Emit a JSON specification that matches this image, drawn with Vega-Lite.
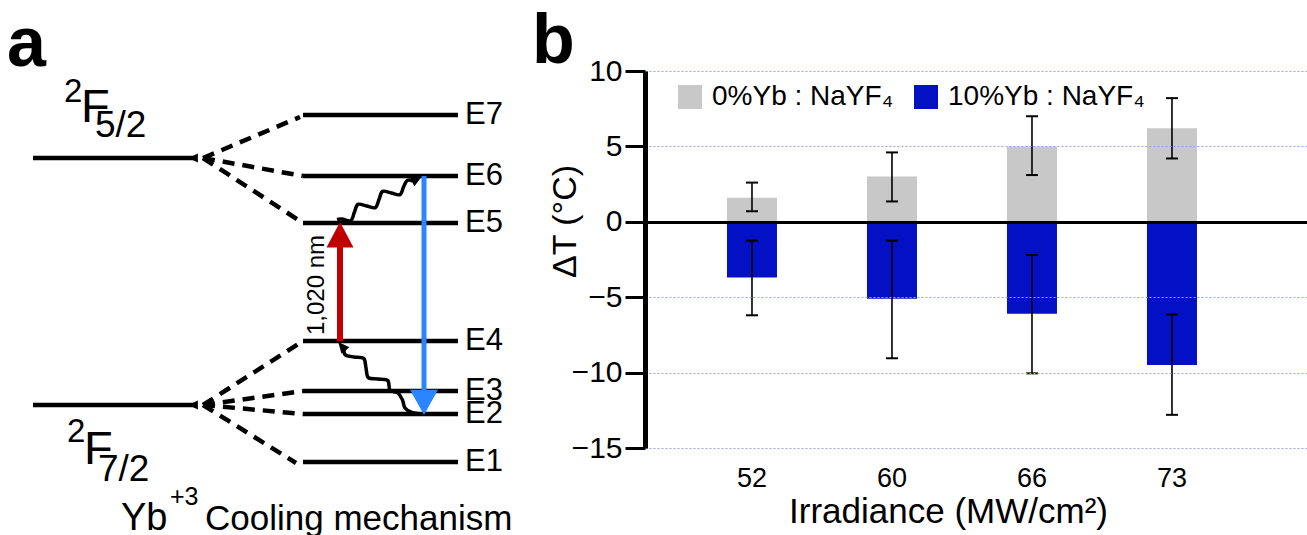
{
"$schema": "https://vega.github.io/schema/vega-lite/v6.json",
"width": 1307, "height": 535, "padding": 0,
"autosize": {"type": "none"},
"background": "white",
"config": {"view": {"stroke": null}, "font": "Liberation Sans", "text": {"font": "Liberation Sans", "color": "black"}},
"datasets": {
 "levels": [
  {"level": "2F5/2", "x1": 33, "x2": 197, "y": 158},
  {"level": "2F7/2", "x1": 33, "x2": 197, "y": 405},
  {"level": "E7", "x1": 303, "x2": 458, "y": 115},
  {"level": "E6", "x1": 303, "x2": 458, "y": 176},
  {"level": "E5", "x1": 303, "x2": 458, "y": 223},
  {"level": "E4", "x1": 303, "x2": 458, "y": 341},
  {"level": "E3", "x1": 303, "x2": 458, "y": 391},
  {"level": "E2", "x1": 303, "x2": 458, "y": 414},
  {"level": "E1", "x1": 303, "x2": 458, "y": 462}
 ],
 "connectors": [
  {"x1": 203, "y1": 158, "x2": 300, "y2": 117},
  {"x1": 203, "y1": 158, "x2": 303, "y2": 176},
  {"x1": 203, "y1": 158, "x2": 303, "y2": 223},
  {"x1": 203, "y1": 405, "x2": 303, "y2": 341},
  {"x1": 203, "y1": 405, "x2": 303, "y2": 391},
  {"x1": 203, "y1": 405, "x2": 303, "y2": 414},
  {"x1": 203, "y1": 405, "x2": 296, "y2": 463}
 ],
 "transitions": [
  {"name": "absorption", "x": 340, "y1": 341, "y2": 240},
  {"name": "emission", "x": 424, "y1": 176, "y2": 395}
 ],
 "heads": [
  {"name": "absorption", "x": 340, "y": 234.7},
  {"name": "emission", "x": 424, "y": 402.4},
  {"name": "relax_up", "x": 416, "y": 179.5},
  {"name": "relax_down", "x": 342.5, "y": 347},
  {"name": "split_upper", "x": 194, "y": 158},
  {"name": "split_lower", "x": 194, "y": 405}
 ],
 "waves": [
  {"w": "u", "i": 0, "x": 337, "y": 219.5},
  {"w": "u", "i": 1, "x": 342, "y": 219},
  {"w": "u", "i": 2, "x": 350.8, "y": 220.6},
  {"w": "u", "i": 3, "x": 354.3, "y": 212.5},
  {"w": "u", "i": 4, "x": 357.9, "y": 204.4},
  {"w": "u", "i": 5, "x": 366.7, "y": 206},
  {"w": "u", "i": 6, "x": 375.4, "y": 207.6},
  {"w": "u", "i": 7, "x": 379, "y": 199.5},
  {"w": "u", "i": 8, "x": 382.6, "y": 191.4},
  {"w": "u", "i": 9, "x": 391.3, "y": 193},
  {"w": "u", "i": 10, "x": 400.1, "y": 194.6},
  {"w": "u", "i": 11, "x": 403.7, "y": 186.5},
  {"w": "u", "i": 12, "x": 407.2, "y": 180.4},
  {"w": "u", "i": 13, "x": 413, "y": 181},
  {"w": "l", "i": 0, "x": 422, "y": 414},
  {"w": "l", "i": 1, "x": 412, "y": 412.5},
  {"w": "l", "i": 2, "x": 405, "y": 408},
  {"w": "l", "i": 3, "x": 402.5, "y": 400},
  {"w": "l", "i": 4, "x": 398, "y": 393},
  {"w": "l", "i": 5, "x": 390, "y": 390},
  {"w": "l", "i": 6, "x": 387.7, "y": 380.4},
  {"w": "l", "i": 7, "x": 378, "y": 379},
  {"w": "l", "i": 8, "x": 368.3, "y": 377.6},
  {"w": "l", "i": 9, "x": 366, "y": 368},
  {"w": "l", "i": 10, "x": 363.7, "y": 358.4},
  {"w": "l", "i": 11, "x": 354, "y": 357},
  {"w": "l", "i": 12, "x": 345.5, "y": 355},
  {"w": "l", "i": 13, "x": 344, "y": 350}
 ],
 "bars": [
  {"irr": "52", "series": "0%Yb : NaYF₄", "dT": 1.6, "lo": 0.7, "hi": 2.6},
  {"irr": "60", "series": "0%Yb : NaYF₄", "dT": 3.0, "lo": 1.35, "hi": 4.6},
  {"irr": "66", "series": "0%Yb : NaYF₄", "dT": 5.0, "lo": 3.1, "hi": 7.0},
  {"irr": "73", "series": "0%Yb : NaYF₄", "dT": 6.2, "lo": 4.2, "hi": 8.2},
  {"irr": "52", "series": "10%Yb : NaYF₄", "dT": -3.7, "lo": -6.2, "hi": -1.25},
  {"irr": "60", "series": "10%Yb : NaYF₄", "dT": -5.1, "lo": -9.05, "hi": -1.25},
  {"irr": "66", "series": "10%Yb : NaYF₄", "dT": -6.1, "lo": -10.05, "hi": -2.2},
  {"irr": "73", "series": "10%Yb : NaYF₄", "dT": -9.5, "lo": -12.8, "hi": -6.15}
 ]
},
"layer": [
 {"layer": [
  {"data": {"name": "levels"},
   "mark": {"type": "rule", "strokeWidth": 4.5, "color": "black"},
   "encoding": {
    "x": {"field": "x1", "type": "quantitative", "scale": {"domain": [0, 1307], "nice": false, "zero": false}, "axis": null},
    "x2": {"field": "x2"},
    "y": {"field": "y", "type": "quantitative", "scale": {"domain": [0, 535], "reverse": true, "nice": false, "zero": false}, "axis": null}}},
  {"data": {"name": "connectors"},
   "mark": {"type": "rule", "strokeWidth": 4.5, "color": "black", "strokeDash": [12, 8]},
   "encoding": {
    "x": {"field": "x1", "type": "quantitative", "scale": {"domain": [0, 1307], "nice": false, "zero": false}, "axis": null},
    "x2": {"field": "x2"},
    "y": {"field": "y1", "type": "quantitative", "scale": {"domain": [0, 535], "reverse": true, "nice": false, "zero": false}, "axis": null},
    "y2": {"field": "y2"}}},
  {"data": {"name": "transitions"},
   "transform": [{"filter": "datum.name === 'absorption'"}],
   "mark": {"type": "rule", "strokeWidth": 6, "color": "#c00000"},
   "encoding": {
    "x": {"field": "x", "type": "quantitative", "scale": {"domain": [0, 1307], "nice": false, "zero": false}, "axis": null},
    "y": {"field": "y1", "type": "quantitative", "scale": {"domain": [0, 535], "reverse": true, "nice": false, "zero": false}, "axis": null},
    "y2": {"field": "y2"}}},
  {"data": {"name": "transitions"},
   "transform": [{"filter": "datum.name === 'emission'"}],
   "mark": {"type": "rule", "strokeWidth": 5, "color": "#2a85ff"},
   "encoding": {
    "x": {"field": "x", "type": "quantitative", "scale": {"domain": [0, 1307], "nice": false, "zero": false}, "axis": null},
    "y": {"field": "y1", "type": "quantitative", "scale": {"domain": [0, 535], "reverse": true, "nice": false, "zero": false}, "axis": null},
    "y2": {"field": "y2"}}},
  {"data": {"name": "heads"},
   "transform": [{"filter": "datum.name === 'absorption'"}],
   "mark": {"type": "point", "shape": "M0,-0.94L1,0.94L-1,0.94Z", "size": 729, "filled": true, "color": "#c00000", "opacity": 1, "strokeWidth": 0},
   "encoding": {
    "x": {"field": "x", "type": "quantitative", "scale": {"domain": [0, 1307], "nice": false, "zero": false}, "axis": null},
    "y": {"field": "y", "type": "quantitative", "scale": {"domain": [0, 535], "reverse": true, "nice": false, "zero": false}, "axis": null}}},
  {"data": {"name": "heads"},
   "transform": [{"filter": "datum.name === 'emission'"}],
   "mark": {"type": "point", "shape": "M0,0.9L1,-0.9L-1,-0.9Z", "size": 784, "filled": true, "color": "#2a85ff", "opacity": 1, "strokeWidth": 0},
   "encoding": {
    "x": {"field": "x", "type": "quantitative", "scale": {"domain": [0, 1307], "nice": false, "zero": false}, "axis": null},
    "y": {"field": "y", "type": "quantitative", "scale": {"domain": [0, 535], "reverse": true, "nice": false, "zero": false}, "axis": null}}},
  {"data": {"name": "waves"},
   "mark": {"type": "line", "strokeWidth": 3.5, "color": "black", "interpolate": "cardinal"},
   "encoding": {
    "x": {"field": "x", "type": "quantitative", "scale": {"domain": [0, 1307], "nice": false, "zero": false}, "axis": null},
    "y": {"field": "y", "type": "quantitative", "scale": {"domain": [0, 535], "reverse": true, "nice": false, "zero": false}, "axis": null},
    "detail": {"field": "w"},
    "order": {"field": "i", "type": "quantitative"}}},
  {"data": {"name": "heads"},
   "transform": [{"filter": "datum.name === 'relax_up'"}],
   "mark": {"type": "point", "shape": "M0,-1L0.8,0.7L-0.8,0.7Z", "size": 170, "angle": 62, "filled": true, "color": "black", "opacity": 1, "strokeWidth": 0},
   "encoding": {
    "x": {"field": "x", "type": "quantitative", "scale": {"domain": [0, 1307], "nice": false, "zero": false}, "axis": null},
    "y": {"field": "y", "type": "quantitative", "scale": {"domain": [0, 535], "reverse": true, "nice": false, "zero": false}, "axis": null}}},
  {"data": {"name": "heads"},
   "transform": [{"filter": "datum.name === 'relax_down'"}],
   "mark": {"type": "point", "shape": "M0,-1L0.8,0.7L-0.8,0.7Z", "size": 170, "angle": -40, "filled": true, "color": "black", "opacity": 1, "strokeWidth": 0},
   "encoding": {
    "x": {"field": "x", "type": "quantitative", "scale": {"domain": [0, 1307], "nice": false, "zero": false}, "axis": null},
    "y": {"field": "y", "type": "quantitative", "scale": {"domain": [0, 535], "reverse": true, "nice": false, "zero": false}, "axis": null}}},
  {"data": {"name": "heads"},
   "transform": [{"filter": "indexof(datum.name, 'split') === 0"}],
   "mark": {"type": "point", "shape": "M-1,0L0.7,-0.8L0.7,0.8Z", "size": 121, "filled": true, "color": "black", "opacity": 1, "strokeWidth": 0},
   "encoding": {
    "x": {"field": "x", "type": "quantitative", "scale": {"domain": [0, 1307], "nice": false, "zero": false}, "axis": null},
    "y": {"field": "y", "type": "quantitative", "scale": {"domain": [0, 535], "reverse": true, "nice": false, "zero": false}, "axis": null}}},
  {"data": {"name": "levels"},
   "transform": [{"filter": "indexof(datum.level, 'E') === 0"}],
   "mark": {"type": "text", "fontSize": 31, "align": "left", "baseline": "middle", "dx": 7},
   "encoding": {
    "x": {"field": "x2", "type": "quantitative", "scale": {"domain": [0, 1307], "nice": false, "zero": false}, "axis": null},
    "y": {"field": "y", "type": "quantitative", "scale": {"domain": [0, 535], "reverse": true, "nice": false, "zero": false}, "axis": null},
    "text": {"field": "level"}}},
  {"data": {"values": [{"t": "F", "x": 81, "y": 122}, {"t": "F", "x": 84, "y": 464}]},
   "mark": {"type": "text", "fontSize": 47, "align": "left", "baseline": "alphabetic"},
   "encoding": {
    "x": {"field": "x", "type": "quantitative", "scale": {"domain": [0, 1307], "nice": false, "zero": false}, "axis": null},
    "y": {"field": "y", "type": "quantitative", "scale": {"domain": [0, 535], "reverse": true, "nice": false, "zero": false}, "axis": null},
    "text": {"field": "t"}}},
  {"data": {"values": [{"t": "2", "x": 64, "y": 102}, {"t": "2", "x": 67, "y": 442}]},
   "mark": {"type": "text", "fontSize": 33, "align": "left", "baseline": "alphabetic"},
   "encoding": {
    "x": {"field": "x", "type": "quantitative", "scale": {"domain": [0, 1307], "nice": false, "zero": false}, "axis": null},
    "y": {"field": "y", "type": "quantitative", "scale": {"domain": [0, 535], "reverse": true, "nice": false, "zero": false}, "axis": null},
    "text": {"field": "t"}}},
  {"data": {"values": [{"t": "5/2", "x": 95, "y": 137}, {"t": "7/2", "x": 98, "y": 481}]},
   "mark": {"type": "text", "fontSize": 37, "align": "left", "baseline": "alphabetic"},
   "encoding": {
    "x": {"field": "x", "type": "quantitative", "scale": {"domain": [0, 1307], "nice": false, "zero": false}, "axis": null},
    "y": {"field": "y", "type": "quantitative", "scale": {"domain": [0, 535], "reverse": true, "nice": false, "zero": false}, "axis": null},
    "text": {"field": "t"}}},
  {"data": {"values": [{"t": "a", "x": 7, "y": 66}, {"t": "b", "x": 532, "y": 63}]},
   "mark": {"type": "text", "fontSize": 70, "fontWeight": "bold", "align": "left", "baseline": "alphabetic"},
   "encoding": {
    "x": {"field": "x", "type": "quantitative", "scale": {"domain": [0, 1307], "nice": false, "zero": false}, "axis": null},
    "y": {"field": "y", "type": "quantitative", "scale": {"domain": [0, 535], "reverse": true, "nice": false, "zero": false}, "axis": null},
    "text": {"field": "t"}}},
  {"data": {"values": [{"t": "Yb", "x": 121, "y": 530}]},
   "mark": {"type": "text", "fontSize": 38, "align": "left", "baseline": "alphabetic"},
   "encoding": {
    "x": {"field": "x", "type": "quantitative", "scale": {"domain": [0, 1307], "nice": false, "zero": false}, "axis": null},
    "y": {"field": "y", "type": "quantitative", "scale": {"domain": [0, 535], "reverse": true, "nice": false, "zero": false}, "axis": null},
    "text": {"field": "t"}}},
  {"data": {"values": [{"t": "Cooling mechanism", "x": 205, "y": 530}]},
   "mark": {"type": "text", "fontSize": 35, "align": "left", "baseline": "alphabetic"},
   "encoding": {
    "x": {"field": "x", "type": "quantitative", "scale": {"domain": [0, 1307], "nice": false, "zero": false}, "axis": null},
    "y": {"field": "y", "type": "quantitative", "scale": {"domain": [0, 535], "reverse": true, "nice": false, "zero": false}, "axis": null},
    "text": {"field": "t"}}},
  {"data": {"values": [{"t": "+3", "x": 170, "y": 505}]},
   "mark": {"type": "text", "fontSize": 25, "align": "left", "baseline": "alphabetic"},
   "encoding": {
    "x": {"field": "x", "type": "quantitative", "scale": {"domain": [0, 1307], "nice": false, "zero": false}, "axis": null},
    "y": {"field": "y", "type": "quantitative", "scale": {"domain": [0, 535], "reverse": true, "nice": false, "zero": false}, "axis": null},
    "text": {"field": "t"}}},
  {"data": {"values": [{"t": "1,020 nm", "x": 317, "y": 285}]},
   "mark": {"type": "text", "fontSize": 24, "angle": 270, "align": "center", "baseline": "middle"},
   "encoding": {
    "x": {"field": "x", "type": "quantitative", "scale": {"domain": [0, 1307], "nice": false, "zero": false}, "axis": null},
    "y": {"field": "y", "type": "quantitative", "scale": {"domain": [0, 535], "reverse": true, "nice": false, "zero": false}, "axis": null},
    "text": {"field": "t"}}}
 ]},
 {"layer": [
  {"data": {"name": "bars"},
   "mark": {"type": "bar", "opacity": 1},
   "encoding": {
    "x": {"field": "irr", "type": "ordinal",
     "scale": {"type": "band", "domain": ["52", "60", "66", "73"], "range": [645, 1307], "paddingInner": 0.642857, "paddingOuter": 0.685714, "align": 0.427},
     "axis": {"orient": "bottom", "offset": -72, "title": "Irradiance (MW/cm²)", "domain": false, "ticks": false, "grid": false, "labelAngle": 0, "labelPadding": 2,
      "labelFont": "Liberation Sans", "labelFontSize": 27, "labelColor": "black",
      "titleFont": "Liberation Sans", "titleFontSize": 35, "titleFontWeight": "normal", "titleColor": "black",
      "titleX": 948, "titleY": 59, "titleBaseline": "alphabetic", "titleAlign": "center", "zindex": 1}},
    "y": {"field": "dT", "type": "quantitative", "stack": null,
     "scale": {"domain": [-15, 10], "range": [448, 71], "nice": false, "zero": false},
     "axis": {"orient": "left", "offset": -645, "title": "ΔT (°C)", "values": [-15, -10, -5, 0, 5, 10],
      "domainColor": "black", "domainWidth": 5, "tickColor": "black", "tickWidth": 3, "tickSize": 20,
      "labelFont": "Liberation Sans", "labelFontSize": 30, "labelColor": "black", "labelPadding": 3,
      "titleFont": "Liberation Sans", "titleFontSize": 34, "titleFontWeight": "normal", "titleColor": "black",
      "titleX": -70, "titleY": 221, "titleBaseline": "alphabetic", "titleAngle": 270, "titleAlign": "center",
      "grid": true,
      "gridColor": {"condition": {"test": "datum.value === 0", "value": "black"}, "value": "#9aa2e6"},
      "gridWidth": {"condition": {"test": "datum.value === 0", "value": 3}, "value": 1},
      "gridDash": {"condition": {"test": "datum.value === 0", "value": []}, "value": [2, 2]},
      "gridOpacity": 1, "zindex": 1}},
    "color": {"field": "series", "type": "nominal",
     "scale": {"domain": ["0%Yb : NaYF₄", "10%Yb : NaYF₄"], "range": ["#c8c8c8", "#0410c4"]},
     "legend": {"orient": "none", "legendX": 676, "legendY": 83, "direction": "horizontal", "title": null,
      "symbolType": "square", "symbolSize": 576, "symbolStrokeWidth": 0, "symbolOpacity": 1,
      "labelFont": "Liberation Sans", "labelFontSize": 28, "labelColor": "black", "labelOffset": 8, "columnPadding": 18, "labelLimit": 400}}}},
  {"data": {"name": "bars"},
   "mark": {"type": "rule", "color": "black", "strokeWidth": 1.6, "opacity": 1},
   "encoding": {
    "x": {"field": "irr", "type": "ordinal", "scale": {"type": "band", "domain": ["52", "60", "66", "73"], "range": [645, 1307], "paddingInner": 0.642857, "paddingOuter": 0.685714, "align": 0.427}},
    "y": {"field": "lo", "type": "quantitative", "scale": {"domain": [-15, 10], "range": [448, 71], "nice": false, "zero": false}},
    "y2": {"field": "hi"}}},
  {"data": {"name": "bars"},
   "mark": {"type": "tick", "color": "black", "size": 12, "thickness": 2, "opacity": 1},
   "encoding": {
    "x": {"field": "irr", "type": "ordinal", "scale": {"type": "band", "domain": ["52", "60", "66", "73"], "range": [645, 1307], "paddingInner": 0.642857, "paddingOuter": 0.685714, "align": 0.427}},
    "y": {"field": "lo", "type": "quantitative", "scale": {"domain": [-15, 10], "range": [448, 71], "nice": false, "zero": false}}}},
  {"data": {"name": "bars"},
   "mark": {"type": "tick", "color": "black", "size": 12, "thickness": 2, "opacity": 1},
   "encoding": {
    "x": {"field": "irr", "type": "ordinal", "scale": {"type": "band", "domain": ["52", "60", "66", "73"], "range": [645, 1307], "paddingInner": 0.642857, "paddingOuter": 0.685714, "align": 0.427}},
    "y": {"field": "hi", "type": "quantitative", "scale": {"domain": [-15, 10], "range": [448, 71], "nice": false, "zero": false}}}}
 ]}
],
"resolve": {"scale": {"x": "independent", "y": "independent"}, "axis": {"x": "independent", "y": "independent"}}
}
